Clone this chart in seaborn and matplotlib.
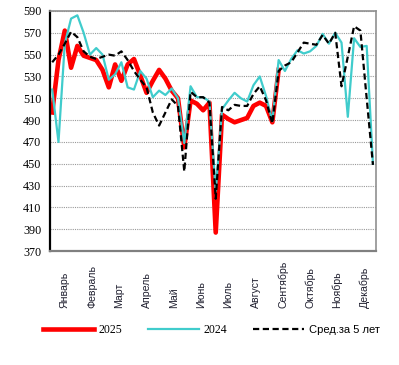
import numpy as np
import pandas as pd
import matplotlib
matplotlib.use("Agg")
import matplotlib.pyplot as plt
import seaborn as sns

# ---- data (weekly values) ----
months = ["Январь", "Февраль", "Март", "Апрель", "Май", "Июнь", "Июль",
          "Август", "Сентябрь", "Октябрь", "Ноябрь", "Декабрь"]

y2025 = [497, 545, 572, 538, 558, 549, 547, 545, 536, 520, 541, 526, 541,
         546, 531, 515, 526, 536, 528, 517, 510, 465, 508, 505, 499, 506,
         387, 495, 491, 488, 490, 492, 503, 506, 503, 488, 536]

y2024 = [518, 470, 560, 583, 586, 570, 550, 556, 550, 527, 532, 543, 520,
         518, 535, 528, 511, 517, 513, 519, 510, 469, 521, 511, 511, 507,
         425, 500, 508, 515, 510, 507, 522, 530, 512, 489, 545, 535, 546,
         554, 551, 553, 558, 569, 560, 570, 561, 493, 565, 557, 558, 450]

avg5 = [543, 550, 560, 571, 566, 553, 548, 546, 548, 550, 549, 553, 545,
        535, 527, 520, 497, 485, 497, 509, 503, 443, 516, 511, 511, 506,
        418, 502, 499, 504, 503, 503, 514, 521, 508, 487, 535, 540, 543,
        552, 561, 560, 559, 568, 560, 570, 521, 548, 576, 572, 510, 449]

yticks = list(range(370, 591, 20))

n_weeks = len(avg5)
weeks = np.arange(n_weeks)
s2025 = pd.Series(y2025 + [np.nan] * (n_weeks - len(y2025)))

fig = plt.figure(figsize=(3.99, 3.65), dpi=100)
ax = fig.add_axes([0.125, 0.312, 0.817, 0.658])

sns.lineplot(x=weeks, y=s2025, ax=ax, color="#FF0000", lw=3.3, label="2025")
sns.lineplot(x=weeks, y=y2024, ax=ax, color="#40CCCC", lw=1.6, label="2024")
sns.lineplot(x=weeks, y=avg5, ax=ax, color="black", lw=1.6,
             dashes=False, label="Сред.за 5 лет").lines[-1].set_dashes([2.8, 1.6])

ax.set_ylim(370, 590)
ax.set_yticks(yticks)
ax.set_xlim(-0.37, 51.46)
ax.grid(axis="y", color="#999999", linestyle=(0, (1, 1)), lw=0.8)
ax.set_axisbelow(True)
ax.set_xlabel("")
ax.set_ylabel("")

pos = [2 + k * n_weeks / 12 for k in range(12)]
ax.set_xticks(pos)
ax.set_xticklabels(months, rotation=90, va="bottom", ha="center",
                   fontsize=7.6, family="Liberation Sans", color="#202030")
ax.tick_params(axis="x", length=0, pad=41)
ax.tick_params(axis="y", length=0, pad=6)
for t in ax.get_yticklabels():
    t.set_family("Liberation Serif")
    t.set_fontsize(8.7)

ax.spines["left"].set_color("black")
ax.spines["left"].set_linewidth(1.6)
ax.spines["bottom"].set_color("#808080")
ax.spines["bottom"].set_linewidth(1.6)
for s in ("top", "right"):
    ax.spines[s].set_color("#909090")
    ax.spines[s].set_linewidth(1.2)

leg = ax.legend(loc="center", bbox_to_anchor=(0.53, 0.096),
                bbox_transform=fig.transFigure, ncol=3, frameon=False,
                handlelength=4.3, columnspacing=2.2, handletextpad=0.4,
                prop={"family": "Liberation Serif", "size": 8.5})
leg.get_texts()[2].set_family("Liberation Sans")
leg.get_texts()[2].set_fontsize(8)

fig.savefig("out.png", dpi=100)
